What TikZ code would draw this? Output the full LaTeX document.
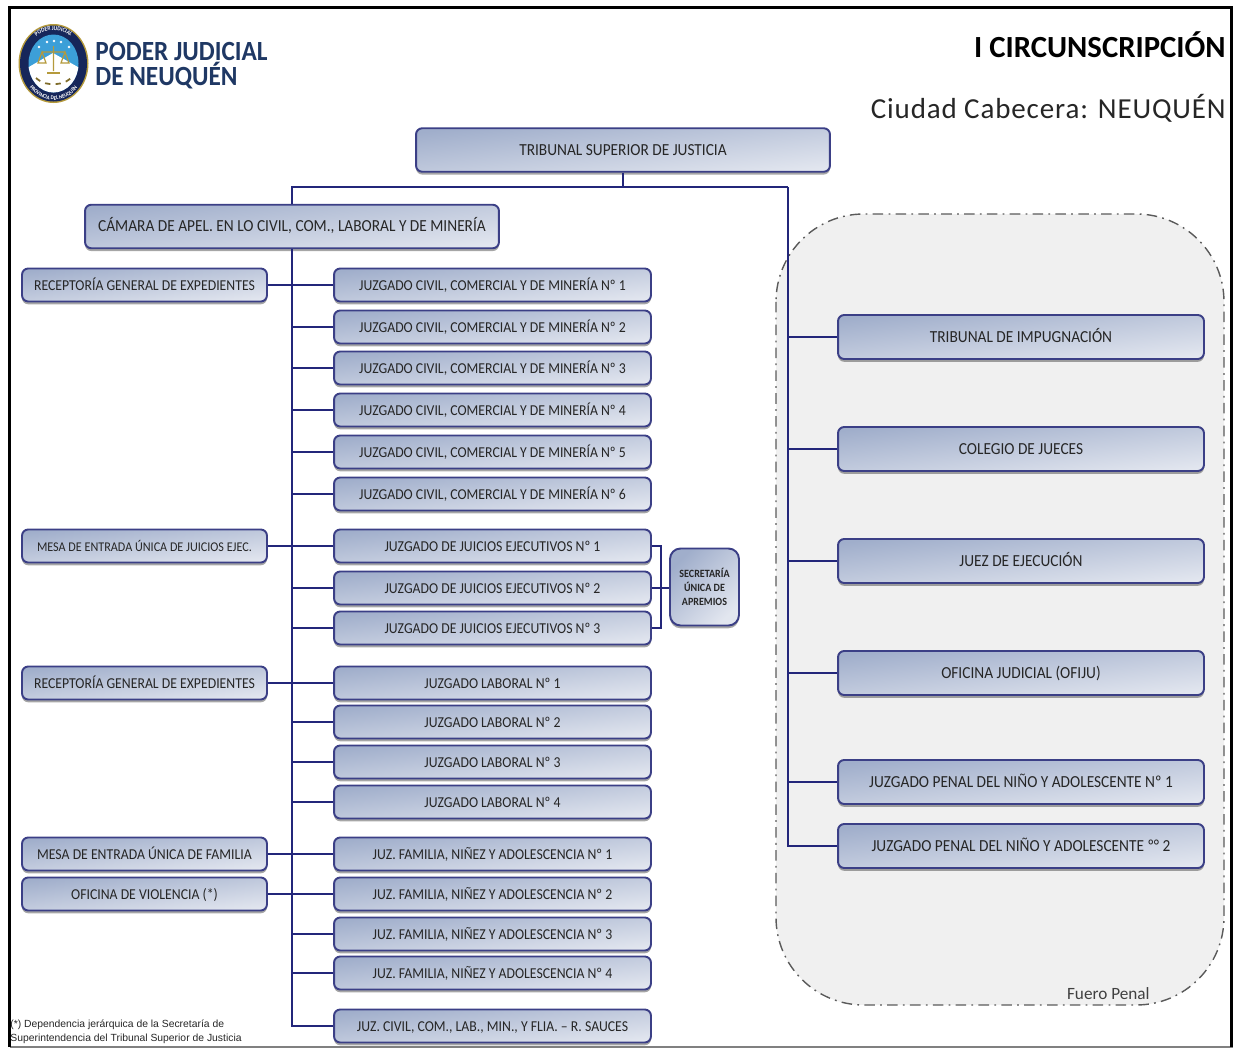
\documentclass[tikz,border=0pt]{standalone}
\usepackage{fontspec}
\setmainfont[FakeStretch=0.91]{Carlito}
\newfontfamily\headfont{Carlito}
\newfontfamily\notefont{Liberation Sans}
\usetikzlibrary{shadows}
\usetikzlibrary{decorations.text}
\definecolor{boxdark}{HTML}{A0AECB}
\definecolor{boxlight}{HTML}{E2E6EF}
\definecolor{boxline}{HTML}{3B3F86}
\definecolor{treeline}{HTML}{23267A}
\definecolor{penalfill}{HTML}{F0F0F0}
\definecolor{penalline}{HTML}{5A5A5A}
\definecolor{headblue}{HTML}{1F3864}
\definecolor{logoblue}{HTML}{3C9FD8}
\definecolor{logonavy}{HTML}{16265A}
\definecolor{logogold}{HTML}{B59A3C}
\tikzset{
    box/.style={draw=boxline, line width=1.1pt, rounded corners=3.5pt, top color=boxdark, bottom color=boxlight,
        shading angle=6.5, text=black!85, align=center, inner sep=0pt,
        drop shadow={shadow xshift=0pt, shadow yshift=-1.6pt, fill=black, opacity=0.35},
        font=\fontsize{8.6}{10}\selectfont},
    leftbox/.style={box, minimum width=4.9cm, minimum height=0.66cm, text height=8.4pt, text depth=1.8pt},
    midbox/.style={box, minimum width=6.34cm, minimum height=0.66cm, text height=8.4pt, text depth=1.8pt},
    rightbox/.style={box, minimum width=7.32cm, minimum height=0.88cm, text height=8pt, text depth=1.8pt, font=\fontsize{9.6}{11}\selectfont},
    topbox/.style={box, minimum width=8.28cm, minimum height=0.87cm, text height=8pt, text depth=1.8pt, font=\fontsize{9.6}{11}\selectfont},
    tree/.style={draw=treeline, line width=1.3pt},
}
\begin{document}
\begin{tikzpicture}[x=0.02cm, y=-0.02cm]
    \useasboundingbox (0,0) rectangle (1235,1048);

    % fuero penal
    \draw[fill=penalfill, draw=penalline, line width=0.8pt, rounded corners=50pt,
        dash pattern=on 6pt off 3pt on 1pt off 3pt] (776,214) rectangle (1224,1005);
    \node[anchor=south east, font=\fontsize{9.8}{11}\selectfont\headfont, text=black!75, inner sep=0pt] (fuero) at (1150,1000) {Fuero Penal};

    % logo
    \fill[logogold] (53.5,63.5) ellipse (35 and 39.5);
    \fill[logonavy] (53.5,63.5) ellipse (33.5 and 38);
    \begin{scope}
        \clip (53.5,63.5) ellipse (25 and 29);
        \fill[logoblue] (20,30) rectangle (90,100);
        \fill[white] (22,71) -- (53,53) -- (85,71) -- (85,100) -- (22,100) -- cycle;
    \end{scope}
    \fill[white] (39,47) circle (1.3) (47,42) circle (1.3) (54,41) circle (1.3) (61,42) circle (1.3) (69,47) circle (1.3);
    \draw[logogold, line width=0.7pt] (53.5,46) -- (53.5,71) (42,52) -- (65,52) (42,52) -- (38,63) -- (46,63) -- cycle
        (65,52) -- (61,63) -- (69,63) -- cycle;
    \fill[logogold] (47,74) rectangle (60,71.5);
    \draw[logogold!70!black, line width=1pt, dashed] (36,78) .. controls (43,84) and (48,84) .. (53,84) .. controls (59,84) and (64,84) .. (71,78);
    \path[decorate, decoration={text along path, text align=center, text color=white,
        text={|\fontsize{3.4}{4}\selectfont\bfseries|PODER JUDICIAL}}]
        (27,63.5) .. controls (27,40) and (38,30.5) .. (53.5,30.5) .. controls (69,30.5) and (80,40) .. (80,63.5);
    \path[decorate, decoration={text along path, text align=center, text color=white,
        text={|\fontsize{3.2}{4}\selectfont\bfseries|PROVINCIA DEL NEUQUEN}}]
        (22,70) .. controls (26,88) and (38,100) .. (53.5,100) .. controls (69,100) and (81,88) .. (85,70);

    % encabezado
    \node[anchor=west, text=headblue, font=\fontsize{15.8}{14.6}\selectfont\bfseries, align=left, inner sep=0pt] (poder) at (95,65.5)
        {PODER JUDICIAL\\DE NEUQUÉN};
    \node[anchor=east, font=\fontsize{17.5}{20}\selectfont\bfseries\headfont, inner sep=0pt] (circ) at (1226,45) {I CIRCUNSCRIPCIÓN};
    \node[anchor=east, font=\fontsize{16.5}{20}\selectfont\headfont, text=black!85, inner sep=0pt] (ciudad) at (1226,108) {\addfontfeature{LetterSpace=3}Ciudad Cabecera: NEUQUÉN};

    % cabeza del arbol
    \node[topbox] (tsj) at (623,150) {TRIBUNAL SUPERIOR DE JUSTICIA};
    \coordinate (T) at (623,187);
    \coordinate (L) at (292,187);
    \coordinate (R) at (788,187);
    \node[topbox] (camara) at (292,226.5) {CÁMARA DE APEL. EN LO CIVIL, COM., LABORAL Y DE MINERÍA};

    % columna izquierda
    \node[leftbox] (recA) at (144.5,285) {RECEPTORÍA GENERAL DE EXPEDIENTES};
    \node[leftbox, font=\fontsize{7.6}{10}\selectfont] (mesaA) at (144.5,546) {MESA DE ENTRADA ÚNICA DE JUICIOS EJEC.};
    \node[leftbox] (recB) at (144.5,683) {RECEPTORÍA GENERAL DE EXPEDIENTES};
    \node[leftbox] (mesaB) at (144.5,854) {MESA DE ENTRADA ÚNICA DE FAMILIA};
    \node[leftbox] (ofic) at (144.5,894) {OFICINA DE VIOLENCIA (*)};

    % columna central
    \node[midbox] (civA) at (492.5,285) {JUZGADO CIVIL, COMERCIAL Y DE MINERÍA Nº 1};
    \node[midbox] (civB) at (492.5,327) {JUZGADO CIVIL, COMERCIAL Y DE MINERÍA Nº 2};
    \node[midbox] (civC) at (492.5,368) {JUZGADO CIVIL, COMERCIAL Y DE MINERÍA Nº 3};
    \node[midbox] (civD) at (492.5,410) {JUZGADO CIVIL, COMERCIAL Y DE MINERÍA Nº 4};
    \node[midbox] (civE) at (492.5,452) {JUZGADO CIVIL, COMERCIAL Y DE MINERÍA Nº 5};
    \node[midbox] (civF) at (492.5,494) {JUZGADO CIVIL, COMERCIAL Y DE MINERÍA Nº 6};
    \node[midbox] (ejeA) at (492.5,546) {JUZGADO DE JUICIOS EJECUTIVOS Nº 1};
    \node[midbox] (ejeB) at (492.5,588) {JUZGADO DE JUICIOS EJECUTIVOS Nº 2};
    \node[midbox] (ejeC) at (492.5,628) {JUZGADO DE JUICIOS EJECUTIVOS Nº 3};
    \node[midbox] (labA) at (492.5,683) {JUZGADO LABORAL Nº 1};
    \node[midbox] (labB) at (492.5,722) {JUZGADO LABORAL Nº 2};
    \node[midbox] (labC) at (492.5,762) {JUZGADO LABORAL Nº 3};
    \node[midbox] (labD) at (492.5,802) {JUZGADO LABORAL Nº 4};
    \node[midbox] (famA) at (492.5,854) {JUZ. FAMILIA, NIÑEZ Y ADOLESCENCIA Nº 1};
    \node[midbox] (famB) at (492.5,894) {JUZ. FAMILIA, NIÑEZ Y ADOLESCENCIA Nº 2};
    \node[midbox] (famC) at (492.5,934) {JUZ. FAMILIA, NIÑEZ Y ADOLESCENCIA Nº 3};
    \node[midbox] (famD) at (492.5,973) {JUZ. FAMILIA, NIÑEZ Y ADOLESCENCIA Nº 4};
    \node[midbox] (sauces) at (492.5,1026) {JUZ. CIVIL, COM., LAB., MIN., Y FLIA. – R. SAUCES};

    \node[box, minimum width=1.38cm, minimum height=1.54cm, rounded corners=6pt, shading angle=45, font=\fontsize{6.3}{8}\selectfont\bfseries] (sec) at (704.5,587)
        {SECRETARÍA\\ÚNICA DE\\APREMIOS};
    \coordinate (SA) at (661,546);
    \coordinate (SB) at (661,628);

    % columna derecha
    \node[rightbox] (imp) at (1021,337) {TRIBUNAL DE IMPUGNACIÓN};
    \node[rightbox] (cole) at (1021,449) {COLEGIO DE JUECES};
    \node[rightbox] (ejec) at (1021,561) {JUEZ DE EJECUCIÓN};
    \node[rightbox] (ofiju) at (1021,673) {OFICINA JUDICIAL (OFIJU)};
    \node[rightbox] (penA) at (1021,782) {JUZGADO PENAL DEL NIÑO Y ADOLESCENTE Nº 1};
    \node[rightbox] (penB) at (1021,846) {JUZGADO PENAL DEL NIÑO Y ADOLESCENTE º° 2};

    % conectores
    \draw[tree] (tsj.south) -- (T);
    \draw[tree] (camara.north) -- (L) -- (R);
    \draw[tree] (camara.south) |- (sauces.west);
    \draw[tree] (R) |- (imp.west);
    \draw[tree] (R) |- (cole.west);
    \draw[tree] (R) |- (ejec.west);
    \draw[tree] (R) |- (ofiju.west);
    \draw[tree] (R) |- (penA.west);
    \draw[tree] (R) |- (penB.west);
    \draw[tree] (recA.east) -- (civA.west);
    \draw[tree] (mesaA.east) -- (ejeA.west);
    \draw[tree] (recB.east) -- (labA.west);
    \draw[tree] (mesaB.east) -- (famA.west);
    \draw[tree] (ofic.east) -- (famB.west);
    \draw[tree] (camara.south) |- (civB.west);
    \draw[tree] (camara.south) |- (civC.west);
    \draw[tree] (camara.south) |- (civD.west);
    \draw[tree] (camara.south) |- (civE.west);
    \draw[tree] (camara.south) |- (civF.west);
    \draw[tree] (camara.south) |- (ejeB.west);
    \draw[tree] (camara.south) |- (ejeC.west);
    \draw[tree] (camara.south) |- (labB.west);
    \draw[tree] (camara.south) |- (labC.west);
    \draw[tree] (camara.south) |- (labD.west);
    \draw[tree] (camara.south) |- (famC.west);
    \draw[tree] (camara.south) |- (famD.west);
    \draw[tree] (ejeA.east) -- (SA) -- (SB) -- (ejeC.east);
    \draw[tree] (ejeB.east) -- (sec.west |- ejeB.east);

    % nota y marco
    \node[anchor=north west, font=\fontsize{5.9}{7.9}\selectfont\notefont, align=left, inner sep=0pt, text=black!85] (nota) at (10,1020)
        {(*) Dependencia jerárquica de la Secretaría de\\Superintendencia del Tribunal Superior de Justicia};
    \draw[black!50, line width=0.6pt] (10,1047) -- (1233,1047);
    \draw[black, line width=1.8pt] (9.5,1047) -- (9.5,7.5) -- (1231.5,7.5) -- (1231.5,1047);
\end{tikzpicture}
\end{document}
